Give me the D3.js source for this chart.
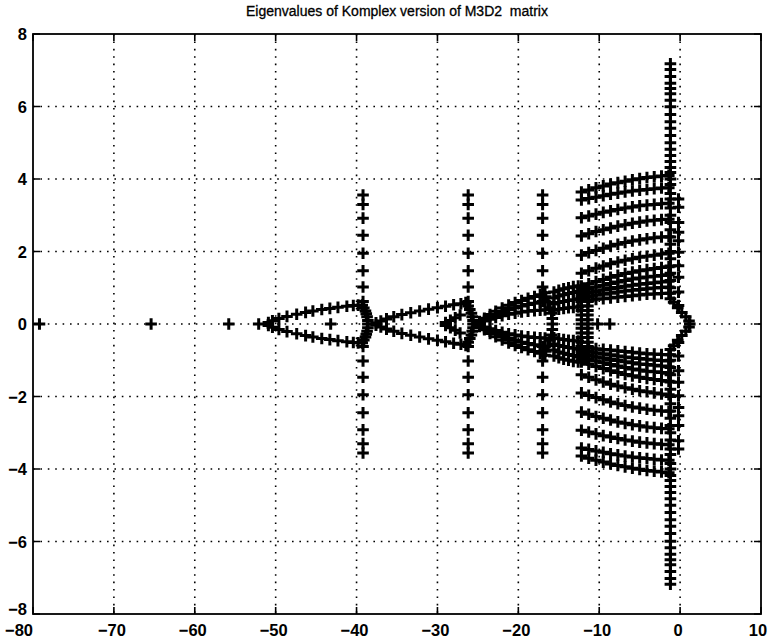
<!DOCTYPE html>
<html>
<head>
<meta charset="utf-8">
<script src="https://cdn.jsdelivr.net/npm/d3@7"></script>
<style>
	body { margin: 0; background: #fff; }
	svg { display: block; }
	.title { font-family: 'Liberation Sans', Arial, sans-serif; font-size: 14px; white-space: pre; }
	.tick-label { font-family: 'Liberation Sans', Arial, sans-serif; font-size: 16.5px; font-weight: bold; }
</style>
</head>
<body>
<svg id="chart"></svg>
<script>
// ---- data (upper half of each branch, the plot is mirrored about y = 0) ----
const xTicks = [-80, -70, -60, -50, -40, -30, -20, -10, 0, 10];
const yTicks = [-8, -6, -4, -2, 0, 2, 4, 6, 8];

// isolated real eigenvalues
const realAxisX = [-79.2, -65.4, -55.8, -52.1, -43.2, -10.2, -8.7];

// first lobe (-51 .. -39)
const lobe1X = [-50.9, -50.4, -49.6, -48.6, -47.4, -46.3, -45.4, -44.3, -43.3, -42.3, -41.2, -40.4, -39.8];
const lobe1Y = [0.04, 0.09, 0.15, 0.21, 0.27, 0.32, 0.36, 0.40, 0.43, 0.46, 0.49, 0.51, 0.52];
const tip1X = [-39.3, -39.1, -38.9, -38.8, -38.7, -38.6, -38.6];
const tip1Y = [0.52, 0.44, 0.36, 0.28, 0.2, 0.1, 0];

// second lobe (-37.6 .. -26)
const lobe2X = [-37.6, -37.0, -36.3, -35.4, -34.4, -33.3, -32.2, -31.1, -30.0, -29.0, -28.0, -27.1, -26.5];
const lobe2Y = [0.03, 0.08, 0.14, 0.2, 0.26, 0.31, 0.36, 0.41, 0.45, 0.49, 0.53, 0.56, 0.59];
const inner2X = [-29.0, -28.4, -27.8, -27.2];
const inner2Y = [0.04, 0.1, 0.17, 0.25];
const tip2X = [-26.2, -26.0, -25.8, -25.7, -25.6, -25.6];
const tip2Y = [0.5, 0.4, 0.3, 0.2, 0.1, 0];

// third lobe (-24.8 .. -16), nested branches
const lobe3X = [-24.8, -24.2, -23.5, -22.8, -22.0, -21.2, -20.4, -19.6, -18.8, -18.0, -17.3, -16.7];
const lobe3AY = [0.03, 0.08, 0.13, 0.18, 0.23, 0.27, 0.30, 0.33, 0.35, 0.37, 0.38, 0.39];
const lobe3BY = [0.05, 0.12, 0.20, 0.27, 0.34, 0.40, 0.45, 0.50, 0.54, 0.57, 0.60, 0.62];
const lobe3CY = [0.07, 0.16, 0.26, 0.35, 0.44, 0.52, 0.59, 0.65, 0.71, 0.76, 0.81, 0.86];
const tip3X = [-16.6, -16.3, -16.1, -15.9, -15.8, -15.8];
const tip3Y = [0.75, 0.6, 0.45, 0.3, 0.15, 0];

// fourth lobe (-15.6 .. -12.6)
const lobe4X = [-15.6, -15.0, -14.4, -13.8, -13.2, -12.6];
const lobe4AY = [0.38, 0.41, 0.43, 0.45, 0.46, 0.47];
const lobe4BY = [0.55, 0.59, 0.62, 0.65, 0.67, 0.69];
const lobe4CY = [0.72, 0.77, 0.81, 0.84, 0.87, 0.90];
const lobe4DY = [0.88, 0.93, 0.97, 1.00, 1.03, 1.05];

// vertical columns of eigenvalues
const columnX = [-39.2, -26.2, -17.0];
const columnY = [3.56, 3.3, 2.92, 2.45, 1.95, 1.47, 1.02, 0.62];
const leftEdgeX = [-12.2, -11.4];
const leftEdgeY = [0, 0.12, 0.25, 0.37, 0.5, 0.62, 0.75, 0.87, 1.0];

// family of curves between -12.2 and -1.4
const familyX = [-12.2, -11.3, -10.4, -9.5, -8.6, -7.7, -6.8, -5.9, -5.0, -4.1, -3.2, -2.3, -1.4];
const familyY = [
	[3.64, 3.70, 3.76, 3.81, 3.86, 3.90, 3.94, 3.98, 4.01, 4.04, 4.06, 4.08, 4.10],
	[3.42, 3.46, 3.50, 3.54, 3.58, 3.61, 3.64, 3.67, 3.69, 3.71, 3.73, 3.75, 3.76],
	[2.93, 2.98, 3.03, 3.08, 3.12, 3.16, 3.20, 3.23, 3.26, 3.28, 3.30, 3.32, 3.33],
	[2.43, 2.49, 2.55, 2.60, 2.65, 2.70, 2.74, 2.78, 2.81, 2.84, 2.86, 2.88, 2.89],
	[1.90, 1.97, 2.03, 2.09, 2.15, 2.20, 2.25, 2.29, 2.32, 2.35, 2.38, 2.40, 2.41],
	[1.40, 1.47, 1.54, 1.60, 1.66, 1.71, 1.76, 1.80, 1.84, 1.87, 1.90, 1.93, 1.95],
	[1.05, 1.11, 1.17, 1.23, 1.29, 1.34, 1.39, 1.43, 1.47, 1.50, 1.53, 1.56, 1.58],
	[0.92, 0.97, 1.02, 1.07, 1.12, 1.16, 1.20, 1.24, 1.27, 1.30, 1.32, 1.34, 1.36],
	[0.82, 0.86, 0.90, 0.94, 0.98, 1.01, 1.04, 1.07, 1.10, 1.12, 1.14, 1.16, 1.18],
	[0.72, 0.76, 0.79, 0.82, 0.85, 0.88, 0.91, 0.93, 0.95, 0.97, 0.99, 1.01, 1.02],
	[0.62, 0.65, 0.68, 0.70, 0.72, 0.74, 0.76, 0.78, 0.80, 0.82, 0.83, 0.84, 0.85],
];

// columns next to the imaginary axis
const nearZeroX = -1.2;
const nearZeroY = [7.18, 7.02, 6.83, 6.64, 6.5, 6.35, 6.17, 5.99, 5.78, 5.58, 5.4, 5.2, 5.0, 4.82,
	4.65, 4.48, 4.32, 4.18, 4.0, 3.85, 3.6, 3.45, 3.2, 3.0, 2.8, 2.6, 2.4, 2.2, 2.0, 1.8, 1.6,
	1.4, 1.2, 1.0, 0.85, 0.7];
const rightColX = -0.2;
const rightColY = [3.45, 3.22, 2.8, 2.53, 2.3, 1.98, 1.61, 1.29, 0.88, 0.51];
const bulgeX = [-0.8, -0.3, 0.2, 0.7, 1.1, 1.2];
const bulgeY = [0.6, 0.45, 0.32, 0.2, 0.08, 0];

class EigenPlot {
	constructor(_config) {
		this.config = {
			parentElement: _config.parentElement,
			containerWidth: 769,
			containerHeight: 641,
			plot: { left: 33, right: 761, top: 34, bottom: 614 },
			tickLength: 7,
			markerSize: 5.8,
		};
		this.initVis();
	}

	initVis() {
		let vis = this;
		let p = vis.config.plot;

		vis.svg = d3
			.select(vis.config.parentElement)
			.attr('width', vis.config.containerWidth)
			.attr('height', vis.config.containerHeight);

		vis.x = d3.scaleLinear().domain([-80, 10]).range([p.left, p.right]);
		vis.y = d3.scaleLinear().domain([-8, 8]).range([p.bottom, p.top]);

		vis.svg
			.append('text')
			.attr('class', 'title')
			.attr('x', (p.left + p.right) / 2)
			.attr('y', 16)
			.attr('text-anchor', 'middle')
			.attr('stroke', '#000')
			.attr('stroke-width', 0.3)
			.text('Eigenvalues of Komplex version of M3D2  matrix');

		vis.gridG = vis.svg.append('g');
		vis.markG = vis.svg.append('g');
		vis.axisG = vis.svg.append('g');

		vis.collectPoints();
		vis.renderVis();
	}

	// pair every eigenvalue with its conjugate
	addMirrored(xs, ys) {
		let vis = this;
		xs.forEach((x, i) => {
			vis.points.push({ x: x, y: ys[i] });
			if (ys[i] !== 0) vis.points.push({ x: x, y: -ys[i] });
		});
	}

	collectPoints() {
		let vis = this;
		vis.points = [];

		realAxisX.forEach((x) => vis.points.push({ x: x, y: 0 }));

		vis.addMirrored(lobe1X, lobe1Y);
		vis.addMirrored(tip1X, tip1Y);
		vis.addMirrored(lobe2X, lobe2Y);
		vis.addMirrored(inner2X, inner2Y);
		vis.addMirrored(tip2X, tip2Y);
		[lobe3AY, lobe3BY, lobe3CY].forEach((ys) => vis.addMirrored(lobe3X, ys));
		vis.addMirrored(tip3X, tip3Y);
		[lobe4AY, lobe4BY, lobe4CY, lobe4DY].forEach((ys) => vis.addMirrored(lobe4X, ys));

		columnX.forEach((cx) => vis.addMirrored(columnY.map(() => cx), columnY));
		leftEdgeX.forEach((cx) => vis.addMirrored(leftEdgeY.map(() => cx), leftEdgeY));

		familyY.forEach((ys) => vis.addMirrored(familyX, ys));

		vis.addMirrored(nearZeroY.map(() => nearZeroX), nearZeroY);
		vis.addMirrored(rightColY.map(() => rightColX), rightColY);
		vis.addMirrored(bulgeX, bulgeY);
	}

	renderVis() {
		let vis = this;
		let p = vis.config.plot;
		let t = vis.config.tickLength;
		let s = vis.config.markerSize;
		let fmt = (d) => (d < 0 ? '\u2212' + Math.abs(d) : String(d));

		// dotted grid
		vis.gridG
			.selectAll('.grid-x')
			.data(xTicks.slice(1, -1))
			.join('line')
			.attr('class', 'grid-x')
			.attr('x1', (d) => vis.x(d))
			.attr('x2', (d) => vis.x(d))
			.attr('y1', p.top)
			.attr('y2', p.bottom)
			.attr('stroke', '#000')
			.attr('stroke-width', 1.6)
			.attr('stroke-dasharray', '1.6,5.8');

		vis.gridG
			.selectAll('.grid-y')
			.data(yTicks.slice(1, -1))
			.join('line')
			.attr('class', 'grid-y')
			.attr('x1', p.left)
			.attr('x2', p.right)
			.attr('y1', (d) => vis.y(d))
			.attr('y2', (d) => vis.y(d))
			.attr('stroke', '#000')
			.attr('stroke-width', 1.6)
			.attr('stroke-dasharray', '1.6,5.8');

		// plus markers
		vis.markG
			.selectAll('.eig')
			.data(vis.points)
			.join('path')
			.attr('class', 'eig')
			.attr('transform', (d) => `translate(${vis.x(d.x)},${vis.y(d.y)})`)
			.attr('d', `M${-s},0H${s}M0,${-s}V${s}`)
			.attr('stroke', '#000')
			.attr('stroke-width', 3)
			.attr('fill', 'none');

		// box
		vis.axisG
			.append('rect')
			.attr('x', p.left)
			.attr('y', p.top)
			.attr('width', p.right - p.left)
			.attr('height', p.bottom - p.top)
			.attr('fill', 'none')
			.attr('stroke', '#000')
			.attr('stroke-width', 1.8);

		// inward ticks on all four sides
		vis.axisG
			.selectAll('.xtick')
			.data(xTicks)
			.join('path')
			.attr('class', 'xtick')
			.attr('d', (d) => `M${vis.x(d)},${p.bottom}v${-t}M${vis.x(d)},${p.top}v${t}`)
			.attr('stroke', '#000')
			.attr('stroke-width', 1.6);

		vis.axisG
			.selectAll('.ytick')
			.data(yTicks)
			.join('path')
			.attr('class', 'ytick')
			.attr('d', (d) => `M${p.left},${vis.y(d)}h${t}M${p.right},${vis.y(d)}h${-t}`)
			.attr('stroke', '#000')
			.attr('stroke-width', 1.6);

		// first label sits pushed outwards, last one kept inside the page
		let lastX = xTicks.length - 1;
		vis.axisG
			.selectAll('.xlabel')
			.data(xTicks)
			.join('text')
			.attr('class', 'tick-label xlabel')
			.attr('x', (d, i) => vis.x(d) + (i === 0 ? -14 : i === lastX ? -3 : -2))
			.attr('y', p.bottom + 22)
			.attr('text-anchor', 'middle')
			.text(fmt);

		vis.axisG
			.selectAll('.ylabel')
			.data(yTicks)
			.join('text')
			.attr('class', 'tick-label ylabel')
			.attr('x', p.left - 6)
			.attr('y', (d, i) => vis.y(d) + (i === 0 ? 1 : 6))
			.attr('text-anchor', 'end')
			.text(fmt);
	}
}

new EigenPlot({ parentElement: '#chart' });
</script>
</body>
</html>
